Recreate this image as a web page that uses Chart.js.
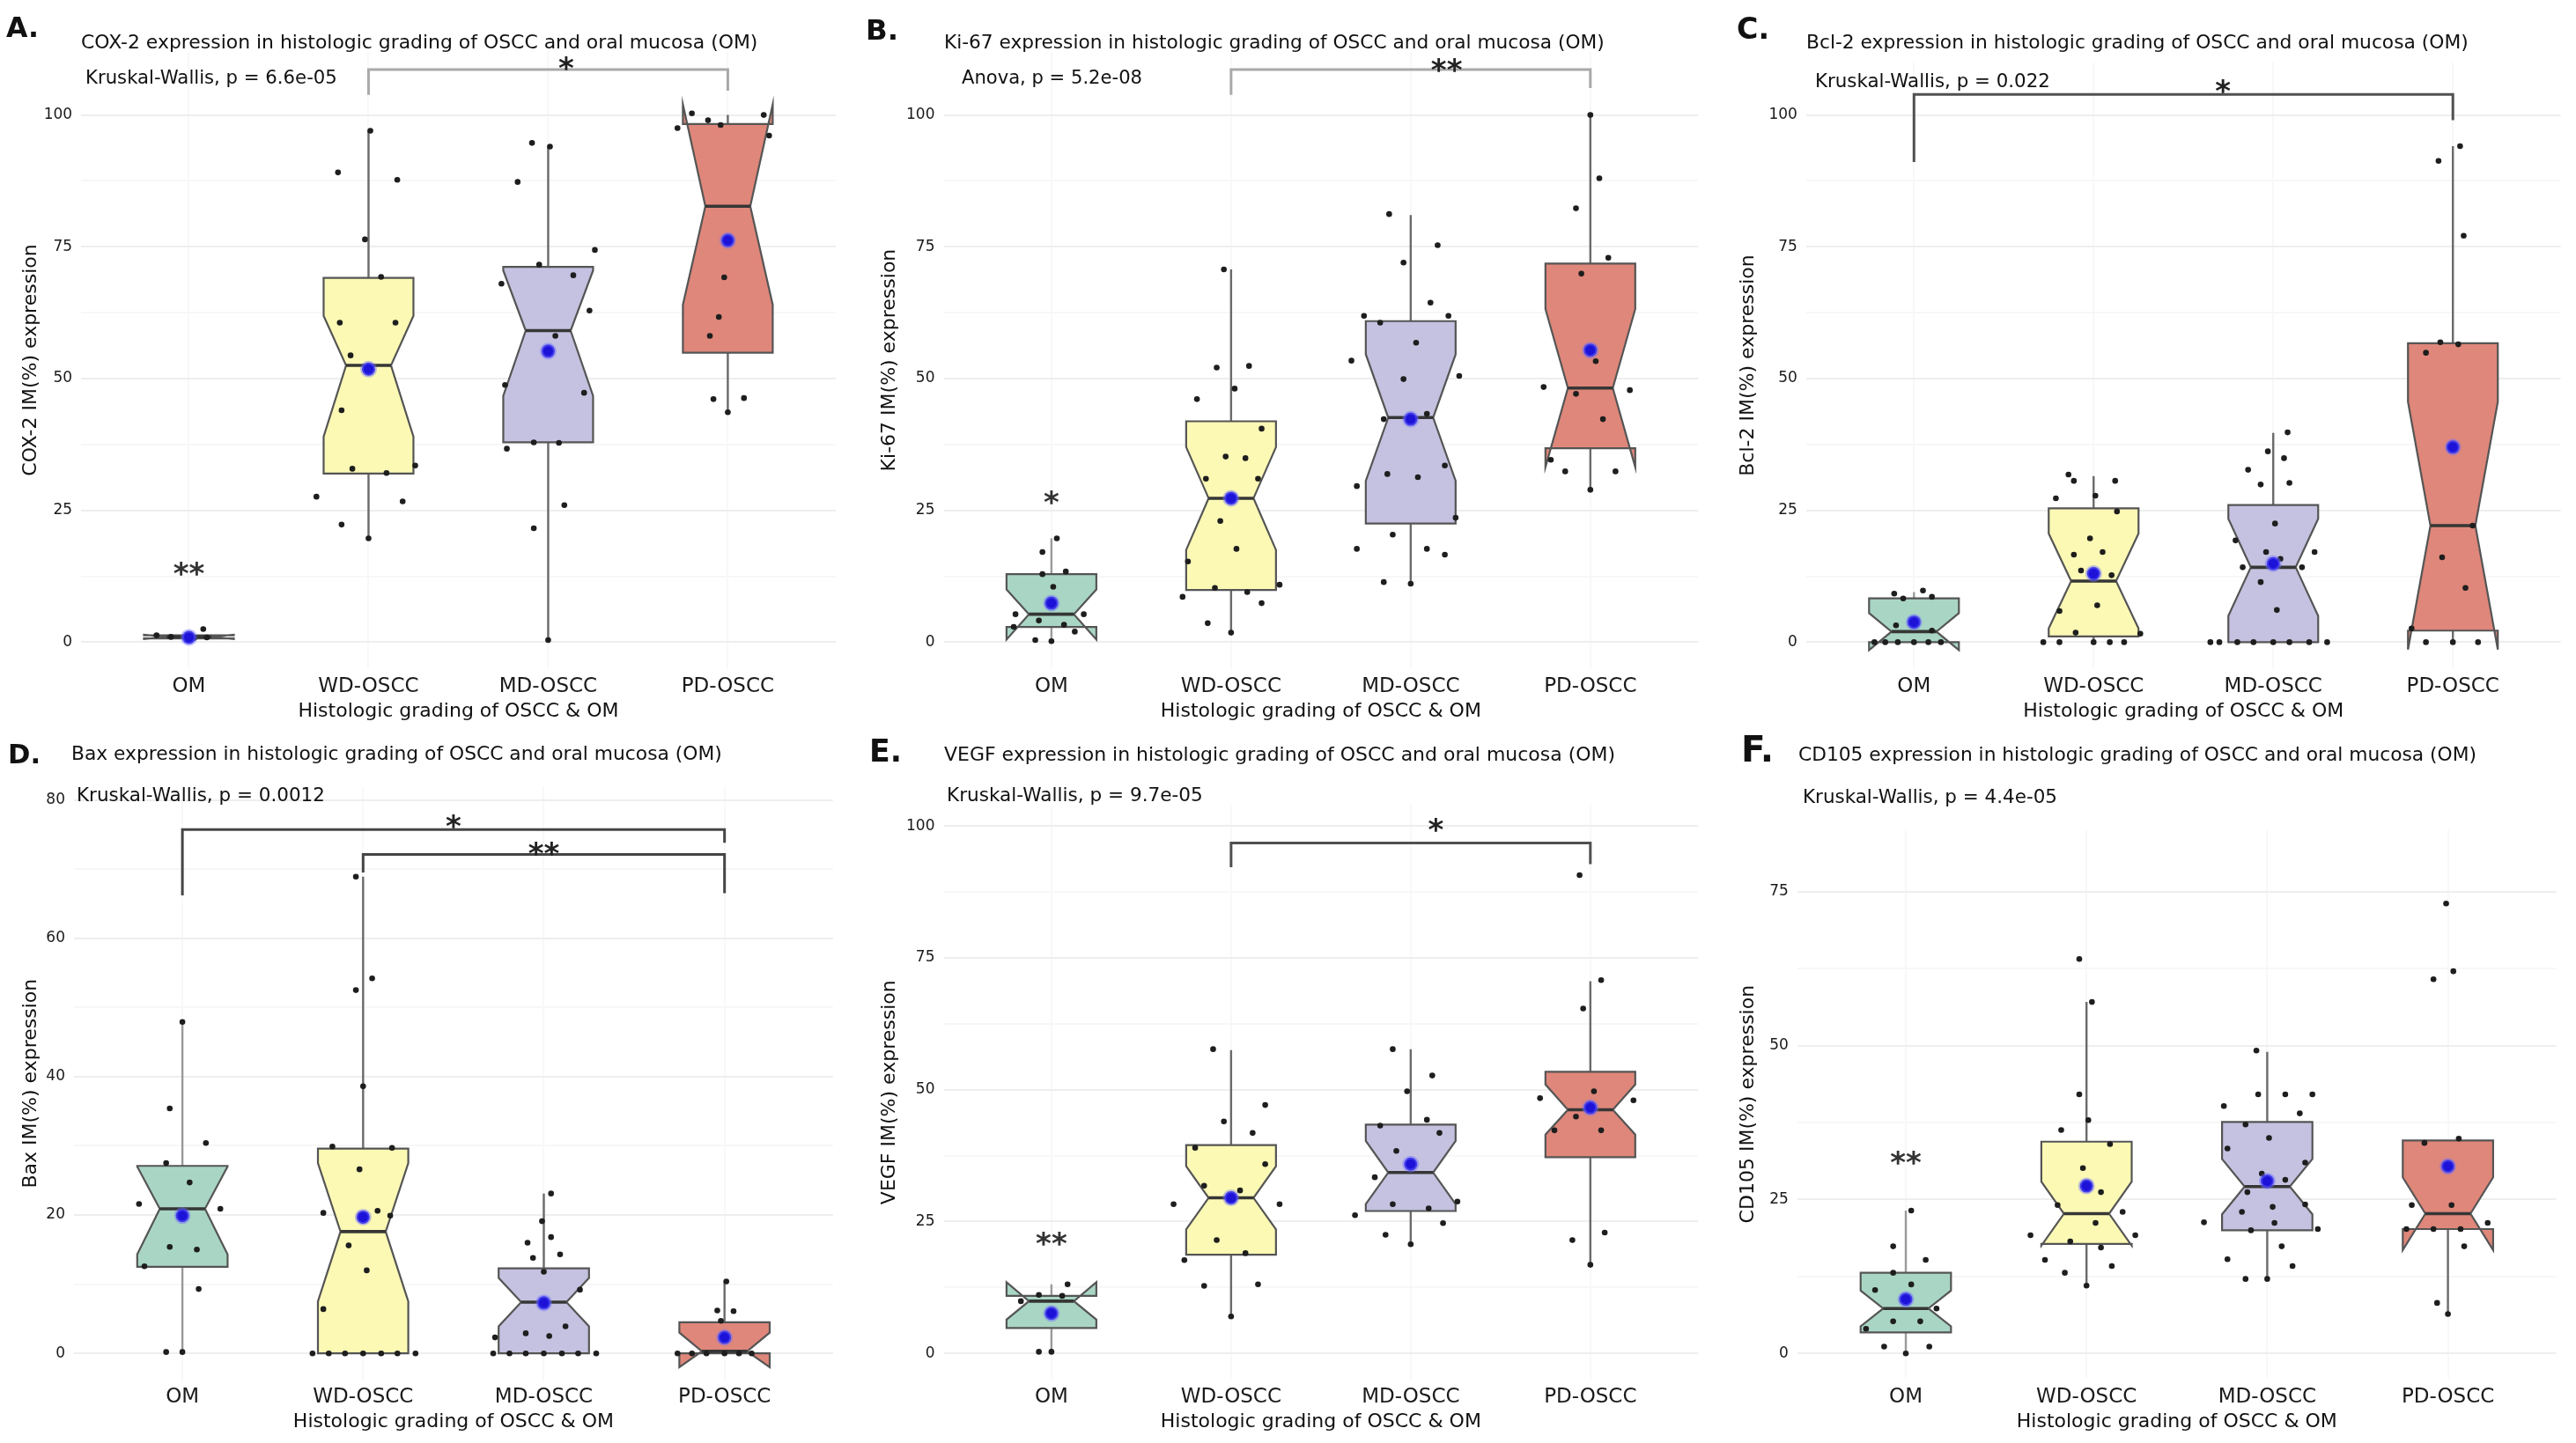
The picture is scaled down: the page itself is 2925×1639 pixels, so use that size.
<!DOCTYPE html>
<html>
<head>
<meta charset="utf-8">
<title>OSCC marker expression by histologic grade</title>
<script src="https://cdn.jsdelivr.net/npm/chart.js@4.4.1/dist/chart.umd.min.js"></script>
<style>
  html, body { margin: 0; padding: 0; background: #fff; }
  body { position: relative; width: 2925px; height: 1639px; overflow: hidden; }
  canvas { position: absolute; }
</style>
</head>
<body>
<canvas id="panelA"></canvas>
<canvas id="panelB"></canvas>
<canvas id="panelC"></canvas>
<canvas id="panelD"></canvas>
<canvas id="panelE"></canvas>
<canvas id="panelF"></canvas>
<script>
const groups = ['OM', 'WD-OSCC', 'MD-OSCC', 'PD-OSCC'];
const ticks100 = [0, 25, 50, 75, 100];
const minor100 = [12.5, 37.5, 62.5, 87.5];
const ticks80 = [0, 20, 40, 60, 80];
const minor80 = [10, 30, 50, 70];
const ticks75 = [0, 25, 50, 75];
const minor75 = [12.5, 37.5, 62.5];

// A. COX-2
const coxQ1 = [0.7, 32.0, 37.9, 54.9];
const coxMedian = [1.0, 52.5, 59.1, 82.7];
const coxQ3 = [1.3, 69.1, 71.2, 98.3];
const coxLow = [0.5, 19.7, 0.4, 43.6];
const coxHigh = [2.0, 97.0, 94.0, 100];
const coxNotchLo = [0.6, 39.0, 46.7, 64.0];
const coxNotchHi = [1.4, 61.9, 70.5, 102.0];
const coxMean = [0.9, 51.8, 55.2, 76.2];
const coxPoints = [
  [[1.3, -0.18], [2.5, 0.08], [0.9, 0.10], [1.0, -0.10], [0.8, 0.03]],
  [[97.0, 0.01], [89.1, -0.17], [87.7, 0.16], [76.4, -0.02], [69.3, 0.07], [60.6, -0.16], [60.6, 0.15], [54.4, -0.10],
   [44.0, -0.15], [32.9, -0.09], [32.1, 0.10], [33.5, 0.26], [27.6, -0.29], [26.7, 0.19], [22.3, -0.15], [19.7, 0.0]],
  [[94.7, -0.09], [94.0, 0.01], [87.3, -0.17], [74.4, 0.26], [71.6, -0.05], [69.6, 0.14], [68.0, -0.26], [62.9, 0.23],
   [58.1, 0.04], [48.8, -0.24], [47.3, 0.20], [37.9, -0.08], [37.8, 0.06], [36.7, -0.23], [26.0, 0.09], [21.6, -0.08], [0.4, 0.0]],
  [[100.3, -0.20], [99.0, -0.11], [98.1, -0.04], [100, 0.20], [97.5, -0.28], [96.1, 0.23], [69.2, -0.02], [61.7, -0.05],
   [58.1, -0.10], [46.1, -0.08], [46.3, 0.09], [43.6, 0.0]]
];
const coxBrackets = [[2, 4, 108.6, 103.8, 104.6, '*', 3.1, 110.3]];
const coxStars = [[1, 14.4, '**']];

// B. Ki-67
const kiQ1 = [2.9, 9.9, 22.5, 36.8];
const kiMedian = [5.3, 27.3, 42.6, 48.2];
const kiQ3 = [12.9, 41.9, 60.9, 71.8];
const kiLow = [0.2, 1.8, 11.1, 28.9];
const kiHigh = [19.7, 70.7, 81.0, 100];
const kiNotchLo = [0.5, 17.5, 30.6, 33.2];
const kiNotchHi = [10.0, 37.0, 54.6, 63.2];
const kiMean = [7.4, 27.3, 42.3, 55.4];
const kiPoints = [
  [[19.7, 0.03], [17.1, -0.05], [12.9, -0.05], [13.4, 0.08], [10.5, 0.01], [5.3, -0.20], [4.1, -0.07], [5.3, 0.18],
   [2.9, -0.21], [3.3, 0.07], [2.0, 0.13], [0.4, -0.09], [0.2, 0.0]],
  [[70.7, -0.04], [52.1, -0.08], [52.4, 0.10], [48.1, 0.02], [46.1, -0.19], [40.5, 0.17], [35.2, -0.03], [34.9, 0.08],
   [31.0, -0.14], [31.0, 0.15], [23.0, -0.06], [17.7, 0.03], [15.3, -0.24], [10.9, 0.27], [10.3, -0.09], [9.5, 0.09],
   [8.6, -0.27], [7.4, 0.17], [3.6, -0.13], [1.8, 0.0]],
  [[81.2, -0.12], [75.3, 0.15], [72.0, -0.04], [64.4, 0.11], [61.9, 0.21], [61.9, -0.26], [60.6, -0.17], [53.4, -0.33],
   [56.8, 0.03], [49.9, -0.04], [50.5, 0.27], [43.3, 0.09], [42.3, -0.15], [33.5, 0.19], [31.9, -0.13], [31.3, 0.04],
   [29.6, -0.30], [23.6, 0.25], [20.4, -0.10], [17.7, 0.09], [17.7, -0.30], [16.6, 0.19], [11.4, -0.15], [11.1, 0.0]],
  [[100, 0.0], [88.0, 0.05], [82.3, -0.08], [72.9, 0.10], [69.9, -0.05], [53.3, 0.03], [48.4, -0.26], [47.8, 0.22],
   [47.1, -0.08], [42.3, 0.07], [34.6, -0.22], [32.4, -0.14], [32.4, 0.14], [28.9, 0.0]]
];
const kiBrackets = [[2, 4, 108.6, 103.8, 105.1, '**', 3.2, 109.9]];
const kiStars = [[1, 28.0, '*']];

// C. Bcl-2
const bclQ1 = [0, 1.1, 0, 2.2];
const bclMedian = [2.0, 11.6, 14.2, 22.1];
const bclQ3 = [8.3, 25.4, 26.0, 56.7];
const bclLow = [0, 0, 0, 0];
const bclHigh = [9.5, 31.5, 39.7, 94.1];
const bclNotchLo = [-1.5, 2.6, 5.0, -1.4];
const bclNotchHi = [5.5, 20.6, 23.4, 45.6];
const bclMean = [3.8, 13.0, 14.9, 37.0];
const bclPoints = [
  [[9.2, -0.11], [8.3, -0.06], [9.8, 0.05], [8.6, 0.10], [3.2, -0.10], [2.2, 0.10], [0, -0.22], [0, -0.16], [0, -0.09],
   [0, 0.0], [0, 0.08], [0, 0.15]],
  [[31.8, -0.14], [30.6, -0.11], [30.6, 0.12], [27.3, -0.21], [27.8, 0.01], [24.8, 0.13], [19.7, -0.02], [16.6, -0.11],
   [17.1, 0.05], [13.6, -0.07], [12.7, 0.10], [5.9, -0.19], [7.0, 0.02], [1.8, -0.10], [1.6, 0.26], [0, -0.28],
   [0, -0.19], [0, 0.0], [0, 0.09], [0, 0.17]],
  [[39.8, 0.08], [36.2, -0.03], [34.9, 0.06], [32.7, -0.14], [29.9, -0.07], [30.2, 0.09], [22.5, 0.01], [19.3, -0.21],
   [17.1, -0.04], [17.1, 0.23], [15.8, 0.04], [14.2, -0.17], [14.2, 0.16], [11.4, -0.07], [6.1, 0.02], [0, -0.35],
   [0, -0.30], [0, -0.20], [0, -0.11], [0, 0.0], [0, 0.09], [0, 0.20], [0, 0.30]],
  [[91.3, -0.08], [94.1, 0.04], [77.1, 0.06], [56.9, -0.07], [56.5, 0.03], [54.9, -0.15], [22.1, 0.11], [16.1, -0.06],
   [10.3, 0.07], [2.6, -0.23], [0, -0.15], [0, 0.0], [0, 0.14]]
];
const bclBrackets = [[1, 4, 103.9, 91.1, 99.0, '*', 2.72, 106.0]];
const bclStars = [];

// D. Bax
const baxQ1 = [12.5, 0, 0, 0];
const baxMedian = [20.9, 17.6, 7.4, 0.3];
const baxQ3 = [27.1, 29.6, 12.3, 4.5];
const baxLow = [0, 0, 0, 0];
const baxHigh = [47.9, 68.9, 23.1, 10.4];
const baxNotchLo = [14.3, 7.5, 3.9, -2.0];
const baxNotchHi = [27.0, 27.5, 10.9, 3.0];
const baxMean = [19.9, 19.7, 7.3, 2.3];
const baxPoints = [
  [[47.9, 0.0], [35.4, -0.07], [30.4, 0.13], [27.5, -0.09], [24.7, 0.04], [21.6, -0.24], [20.9, 0.21], [15.4, -0.07],
   [15.0, 0.08], [12.6, -0.21], [9.3, 0.09], [0.2, -0.09], [0.2, 0.0]],
  [[68.9, -0.04], [54.2, 0.05], [52.5, -0.04], [38.6, 0.0], [29.9, -0.17], [29.7, 0.16], [26.6, -0.02], [20.6, 0.08],
   [19.9, 0.15], [20.3, -0.22], [15.6, -0.08], [12.0, 0.02], [6.4, -0.22], [0, -0.28], [0, -0.19], [0, -0.10],
   [0, 0.0], [0, 0.10], [0, 0.19], [0, 0.29]],
  [[23.1, 0.04], [19.1, -0.01], [16.0, -0.09], [16.8, 0.04], [13.8, -0.06], [14.3, 0.09], [11.8, 0.0], [9.2, 0.20],
   [3.9, 0.12], [2.9, -0.10], [2.5, 0.03], [2.3, -0.27], [0, -0.28], [0, -0.19], [0, -0.10], [0, 0.0], [0, 0.10],
   [0, 0.19], [0, 0.29]],
  [[10.4, 0.01], [6.2, -0.04], [6.1, 0.05], [4.7, -0.02], [2.7, -0.01], [0, -0.26], [0, -0.18], [0, -0.10], [0, 0.0],
   [0, 0.08], [0, 0.15]]
];
const baxBrackets = [[1, 4, 75.7, 66.2, 73.8, '*', 2.5, 77.3], [2, 4, 72.1, 69.5, 66.5, '**', 3.0, 73.3]];
const baxStars = [];

// E. VEGF
const vegfQ1 = [4.8, 18.7, 27.0, 37.2];
const vegfMedian = [9.9, 29.5, 34.3, 46.2];
const vegfQ3 = [10.9, 39.5, 43.4, 53.4];
const vegfLow = [0.3, 7.0, 20.7, 16.8];
const vegfHigh = [13.1, 57.5, 57.7, 70.6];
const vegfNotchLo = [6.4, 23.5, 28.3, 41.5];
const vegfNotchHi = [13.5, 35.5, 40.3, 51.0];
const vegfMean = [7.6, 29.5, 35.9, 46.6];
const vegfPoints = [
  [[11.1, -0.07], [13.1, 0.09], [10.9, 0.06], [9.9, -0.17], [0.3, -0.07], [0.3, 0.0]],
  [[57.7, -0.10], [47.1, 0.19], [44.0, -0.04], [41.8, 0.12], [39.0, -0.20], [35.9, 0.19], [31.8, -0.15], [30.9, 0.05],
   [28.3, -0.32], [28.3, 0.27], [21.5, -0.08], [19.0, 0.08], [17.7, -0.26], [12.8, -0.15], [13.1, 0.15], [7.0, 0.0]],
  [[57.7, -0.10], [52.7, 0.12], [49.7, -0.02], [44.3, 0.09], [43.2, -0.17], [41.8, 0.16], [38.4, -0.08], [35.9, 0.0],
   [33.4, -0.20], [28.3, -0.10], [28.8, 0.26], [27.5, 0.10], [26.2, -0.31], [24.7, 0.18], [22.5, -0.14], [20.7, 0.0]],
  [[90.7, -0.06], [70.8, 0.06], [65.4, -0.04], [49.7, 0.02], [48.4, -0.28], [48.0, 0.24], [44.9, -0.08], [42.3, -0.20],
   [42.3, 0.06], [21.5, -0.10], [22.9, 0.08], [16.8, 0.0]]
];
const vegfBrackets = [[2, 4, 96.8, 92.2, 92.8, '*', 3.14, 100.7]];
const vegfStars = [[1, 22.2, '**']];

// F. CD105
const cdQ1 = [3.4, 17.8, 20.0, 20.2];
const cdMedian = [7.3, 22.7, 27.1, 22.7];
const cdQ3 = [13.1, 34.4, 37.6, 34.6];
const cdLow = [0, 11.0, 12.1, 6.4];
const cdHigh = [23.2, 57.1, 49.0, 34.6];
const cdNotchLo = [4.4, 17.5, 22.6, 16.8];
const cdNotchHi = [10.2, 27.9, 31.6, 28.6];
const cdMean = [8.8, 27.2, 28.0, 30.4];
const cdPoints = [
  [[23.2, 0.03], [17.4, -0.07], [15.2, 0.11], [13.1, -0.07], [11.2, 0.03], [10.3, -0.17], [7.3, 0.17], [4.0, -0.22],
   [5.2, -0.07], [5.2, 0.08], [1.1, -0.12], [1.1, 0.13], [0, 0.0]],
  [[64.1, -0.04], [57.1, 0.03], [42.1, -0.04], [37.9, 0.01], [36.3, -0.14], [34.0, 0.13], [30.1, -0.02], [26.2, 0.08],
   [24.1, -0.16], [23.0, 0.20], [21.2, 0.05], [19.2, -0.31], [19.2, 0.27], [18.2, -0.09], [17.2, 0.08], [15.2, -0.23],
   [14.2, 0.14], [13.1, -0.12], [11.0, 0.0]],
  [[49.2, -0.06], [42.1, -0.05], [42.1, 0.10], [42.1, 0.25], [40.2, -0.24], [39.0, 0.18], [37.2, -0.12], [35.0, 0.01],
   [33.3, -0.22], [31.0, 0.21], [29.2, -0.03], [28.2, 0.10], [26.2, -0.11], [24.2, 0.21], [23.8, 0.03], [23.0, -0.14],
   [21.3, -0.35], [20.0, -0.09], [21.2, 0.04], [20.2, 0.28], [17.4, 0.08], [15.3, -0.22], [14.2, 0.14], [12.1, -0.12],
   [12.1, 0.0]],
  [[73.1, -0.01], [60.8, -0.08], [62.1, 0.03], [34.2, -0.13], [34.9, 0.06], [24.1, -0.20], [24.1, 0.02], [20.2, -0.23],
   [20.2, -0.08], [20.2, 0.07], [21.2, 0.22], [17.4, 0.09], [8.2, -0.06], [6.4, 0.0]]
];
const cdBrackets = [];
const cdStars = [[1, 32.2, '**']];

const groupFills = ['#a9d6c4', '#fbf9b4', '#c4c2e0', '#df877a'];
const FONT = '"DejaVu Sans", "Liberation Sans", sans-serif';
Chart.defaults.font.family = FONT;
Chart.defaults.color = '#1a1a1a';

const panels = [
  { id: 'panelA', letter: 'A.', title: 'COX-2 expression in histologic grading of OSCC and oral mucosa (OM)',
    stat: 'Kruskal-Wallis, p = 6.6e-05', yTitle: 'COX-2 IM(%) expression',
    q1: coxQ1, med: coxMedian, q3: coxQ3, lo: coxLow, hi: coxHigh, nlo: coxNotchLo, nhi: coxNotchHi, mean: coxMean,
    points: coxPoints, brackets: coxBrackets, stars: coxStars, major: ticks100, minor: minor100,
    box: { x: 0, y: 0, w: 975, h: 830, left: 92.1, right: 948.8, y0: 729.4, refPx: 130.6, refVal: 100, ymin: -5, ymax: 112,
      letter: [7, 42], titlePos: [92, 55, 769], statPos: [97, 95, 286], xLabelY: 780, xTitleY: 808, bracketColor: '#a9a9a9' } },
  { id: 'panelB', letter: 'B.', title: 'Ki-67 expression in histologic grading of OSCC and oral mucosa (OM)',
    stat: 'Anova, p = 5.2e-08', yTitle: 'Ki-67 IM(%) expression',
    q1: kiQ1, med: kiMedian, q3: kiQ3, lo: kiLow, hi: kiHigh, nlo: kiNotchLo, nhi: kiNotchHi, mean: kiMean,
    points: kiPoints, brackets: kiBrackets, stars: kiStars, major: ticks100, minor: minor100,
    box: { x: 975, y: 0, w: 975, h: 830, left: 96.5, right: 953.2, y0: 729.4, refPx: 130.6, refVal: 100, ymin: -5, ymax: 112,
      letter: [8, 45], titlePos: [97, 55, 750], statPos: [117, 95, 205], xLabelY: 780, xTitleY: 808, bracketColor: '#a9a9a9' } },
  { id: 'panelC', letter: 'C.', title: 'Bcl-2 expression in histologic grading of OSCC and oral mucosa (OM)',
    stat: 'Kruskal-Wallis, p = 0.022', yTitle: 'Bcl-2 IM(%) expression',
    q1: bclQ1, med: bclMedian, q3: bclQ3, lo: bclLow, hi: bclHigh, nlo: bclNotchLo, nhi: bclNotchHi, mean: bclMean,
    points: bclPoints, brackets: bclBrackets, stars: bclStars, major: ticks100, minor: minor100,
    box: { x: 1950, y: 0, w: 975, h: 830, left: 100.9, right: 957.6, y0: 729.4, refPx: 130.6, refVal: 100, ymin: -5, ymax: 110,
      letter: [22, 44], titlePos: [101, 55, 752], statPos: [111, 99, 267], xLabelY: 780, xTitleY: 808, bracketColor: '#505050' } },
  { id: 'panelD', letter: 'D.', title: 'Bax expression in histologic grading of OSCC and oral mucosa (OM)',
    stat: 'Kruskal-Wallis, p = 0.0012', yTitle: 'Bax IM(%) expression',
    q1: baxQ1, med: baxMedian, q3: baxQ3, lo: baxLow, hi: baxHigh, nlo: baxNotchLo, nhi: baxNotchHi, mean: baxMean,
    points: baxPoints, brackets: baxBrackets, stars: baxStars, major: ticks80, minor: minor80,
    box: { x: 0, y: 820, w: 975, h: 819, left: 84, right: 945.8, y0: 717.2, refPx: 88.5, refVal: 80, ymin: -4, ymax: 82,
      letter: [9, 47], titlePos: [81, 43, 739], statPos: [87, 90, 282], xLabelY: 767.5, xTitleY: 795.5, bracketColor: '#454545' } },
  { id: 'panelE', letter: 'E.', title: 'VEGF expression in histologic grading of OSCC and oral mucosa (OM)',
    stat: 'Kruskal-Wallis, p = 9.7e-05', yTitle: 'VEGF IM(%) expression',
    q1: vegfQ1, med: vegfMedian, q3: vegfQ3, lo: vegfLow, hi: vegfHigh, nlo: vegfNotchLo, nhi: vegfNotchHi, mean: vegfMean,
    points: vegfPoints, brackets: vegfBrackets, stars: vegfStars, major: ticks100, minor: minor100,
    box: { x: 975, y: 820, w: 975, h: 819, left: 96.5, right: 953.2, y0: 717.2, refPx: 118.3, refVal: 100, ymin: -5, ymax: 104,
      letter: [12, 45], titlePos: [97, 44, 762], statPos: [100, 90, 291], xLabelY: 767.5, xTitleY: 795.5, bracketColor: '#505050' } },
  { id: 'panelF', letter: 'F.', title: 'CD105 expression in histologic grading of OSCC and oral mucosa (OM)',
    stat: 'Kruskal-Wallis, p = 4.4e-05', yTitle: 'CD105 IM(%) expression',
    q1: cdQ1, med: cdMedian, q3: cdQ3, lo: cdLow, hi: cdHigh, nlo: cdNotchLo, nhi: cdNotchHi, mean: cdMean,
    points: cdPoints, brackets: cdBrackets, stars: cdStars, major: ticks75, minor: minor75,
    box: { x: 1950, y: 820, w: 975, h: 819, left: 90.9, right: 952.7, y0: 717.2, refPx: 193, refVal: 75, ymin: -4, ymax: 85,
      letter: [27, 45], titlePos: [92, 44, 770], statPos: [97, 92, 289], xLabelY: 767.5, xTitleY: 795.5, bracketColor: '#505050' } }
];

// draw text squeezed/stretched to a measured width
function fitText(ctx, text, x, base, width, weight) {
  ctx.font = `${weight} 100px ${FONT}`;
  const size = 100 * width / ctx.measureText(text).width;
  ctx.font = `${weight} ${size.toFixed(2)}px ${FONT}`;
  ctx.textAlign = 'left';
  ctx.textBaseline = 'alphabetic';
  ctx.fillText(text, x, base);
}

function boxPlugin(p) {
  const HW = 0.25, NW = 0.125;
  return {
    id: 'notchedBoxes',
    beforeDatasetsDraw(chart) {
      const { ctx, scales: { x, y } } = chart;
      ctx.save();
      for (let i = 0; i < groups.length; i++) {
        const c = i + 1;
        const X = v => x.getPixelForValue(v), Y = v => y.getPixelForValue(v);
        // whiskers
        ctx.strokeStyle = i === 0 ? '#9a9a9a' : '#6a6a6a';
        ctx.lineWidth = 2.4;
        ctx.beginPath();
        ctx.moveTo(X(c), Y(p.q3[i])); ctx.lineTo(X(c), Y(p.hi[i]));
        ctx.moveTo(X(c), Y(p.q1[i])); ctx.lineTo(X(c), Y(p.lo[i]));
        ctx.stroke();
        // notched box (ggplot style polygon)
        ctx.beginPath();
        ctx.moveTo(X(c - HW), Y(p.q3[i]));
        ctx.lineTo(X(c - HW), Y(p.nhi[i]));
        ctx.lineTo(X(c - NW), Y(p.med[i]));
        ctx.lineTo(X(c - HW), Y(p.nlo[i]));
        ctx.lineTo(X(c - HW), Y(p.q1[i]));
        ctx.lineTo(X(c + HW), Y(p.q1[i]));
        ctx.lineTo(X(c + HW), Y(p.nlo[i]));
        ctx.lineTo(X(c + NW), Y(p.med[i]));
        ctx.lineTo(X(c + HW), Y(p.nhi[i]));
        ctx.lineTo(X(c + HW), Y(p.q3[i]));
        ctx.closePath();
        ctx.fillStyle = groupFills[i];
        ctx.fill();
        ctx.strokeStyle = '#555555';
        ctx.lineWidth = 2.2;
        ctx.lineJoin = 'miter';
        ctx.stroke();
        // median
        ctx.strokeStyle = '#363636';
        ctx.lineWidth = 3.6;
        ctx.beginPath();
        ctx.moveTo(X(c - NW), Y(p.med[i]));
        ctx.lineTo(X(c + NW), Y(p.med[i]));
        ctx.stroke();
      }
      ctx.restore();
    },
    afterDraw(chart) {
      const { ctx, scales: { x, y } } = chart;
      const b = p.box;
      ctx.save();
      ctx.fillStyle = '#111';
      fitText(ctx, p.letter, b.letter[0], b.letter[1], p.letter.length * 18.5, 'bold');
      fitText(ctx, p.title, b.titlePos[0], b.titlePos[1], b.titlePos[2], 'normal');
      fitText(ctx, p.stat, b.statPos[0], b.statPos[1], b.statPos[2], 'normal');
      // significance brackets
      ctx.strokeStyle = b.bracketColor;
      ctx.lineWidth = 3;
      ctx.font = `bold 34px ${FONT}`;
      ctx.textAlign = 'center';
      ctx.textBaseline = 'alphabetic';
      p.brackets.forEach(([g1, g2, top, end1, end2, label, lx, ly]) => {
        ctx.beginPath();
        ctx.moveTo(x.getPixelForValue(g1), y.getPixelForValue(end1));
        ctx.lineTo(x.getPixelForValue(g1), y.getPixelForValue(top));
        ctx.lineTo(x.getPixelForValue(g2), y.getPixelForValue(top));
        ctx.lineTo(x.getPixelForValue(g2), y.getPixelForValue(end2));
        ctx.stroke();
        ctx.fillStyle = '#222';
        ctx.fillText(label, x.getPixelForValue(lx), y.getPixelForValue(ly) + 20);
      });
      p.stars.forEach(([g, v, label]) => {
        ctx.fillStyle = '#333';
        ctx.fillText(label, x.getPixelForValue(g), y.getPixelForValue(v) + 20);
      });
      ctx.restore();
    }
  };
}

panels.forEach(p => {
  const b = p.box;
  const canvas = document.getElementById(p.id);
  canvas.width = b.w; canvas.height = b.h;
  canvas.style.left = b.x + 'px'; canvas.style.top = b.y + 'px';
  canvas.style.width = b.w + 'px'; canvas.style.height = b.h + 'px';

  const ppu = (b.y0 - b.refPx) / b.refVal;
  const areaTop = b.y0 - b.ymax * ppu;
  const areaBottom = b.y0 - b.ymin * ppu;
  const allTicks = [...p.major, ...p.minor].sort((a, c) => a - c);

  const jitter = p.points.flatMap((grp, i) => grp.map(([v, dx]) => ({ x: i + 1 + dx, y: v })));
  const means = p.mean.map((m, i) => ({ x: i + 1, y: m }));

  new Chart(canvas, {
    type: 'scatter',
    data: {
      datasets: [
        { label: 'Mean', data: means, pointRadius: 7.5, pointBackgroundColor: '#1c12d8',
          pointBorderColor: 'rgba(110,110,255,0.45)', pointBorderWidth: 4 },
        { label: 'Samples', data: jitter, pointRadius: 3.3, pointBackgroundColor: '#1e1e1e', pointBorderWidth: 0 }
      ]
    },
    options: {
      responsive: false,
      animation: false,
      devicePixelRatio: 1,
      layout: { padding: { left: 0, top: areaTop, right: b.w - b.right, bottom: 0 } },
      plugins: { legend: { display: false }, tooltip: { enabled: false } },
      scales: {
        x: {
          type: 'linear', min: 0.4, max: 4.6,
          afterBuildTicks: s => { s.ticks = groups.map((g, i) => ({ value: i + 1 })); },
          afterFit: s => { s.height = b.h - areaBottom; },
          ticks: { callback: v => groups[v - 1] || '', padding: b.xLabelY - areaBottom - 13.8,
            font: { size: 23 }, color: '#1a1a1a', autoSkip: false, maxRotation: 0 },
          grid: { color: '#f8f8f8', lineWidth: 2, drawTicks: false },
          border: { display: false },
          title: { display: true, text: 'Histologic grading of OSCC & OM', font: { size: 22 }, color: '#111',
            padding: { top: 0, bottom: Math.max(0, b.h - 13.2 - b.xTitleY) } }
        },
        y: {
          min: b.ymin, max: b.ymax,
          afterBuildTicks: s => { s.ticks = allTicks.map(v => ({ value: v })); },
          afterFit: s => { s.width = b.left; },
          ticks: { callback: v => p.major.includes(v) ? String(v) : '', padding: 10,
            font: { size: 17 }, color: '#1a1a1a', autoSkip: false },
          grid: { color: c => p.major.includes(c.tick.value) ? '#eeeeee' : '#f7f7f7', lineWidth: 2, drawTicks: false },
          border: { display: false },
          title: { display: true, text: p.yTitle, font: { size: 22 }, color: '#111', padding: { top: 21.8, bottom: 0 } }
        }
      }
    },
    plugins: [boxPlugin(p)]
  });
});
</script>
</body>
</html>
